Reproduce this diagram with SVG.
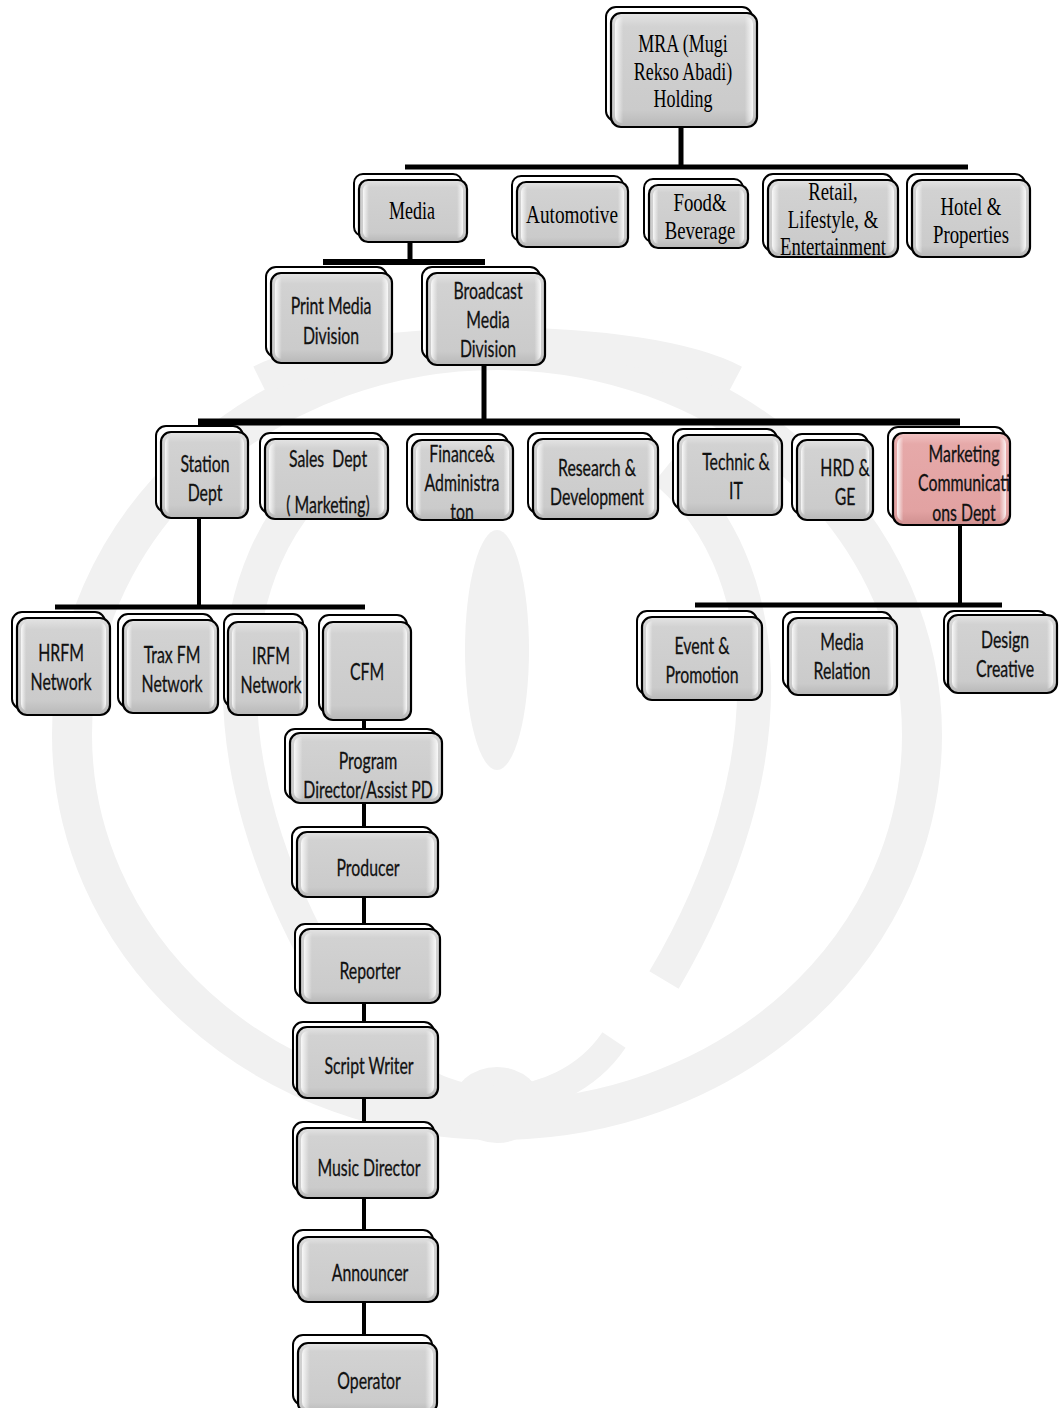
<svg xmlns="http://www.w3.org/2000/svg" width="1059" height="1408" viewBox="0 0 1059 1408">
<defs>
<linearGradient id="gf" x1="0" y1="0" x2="0" y2="1">
<stop offset="0" stop-color="#e4e4e4"/><stop offset="0.12" stop-color="#d2d2d2"/><stop offset="0.85" stop-color="#cbcbcb"/><stop offset="1" stop-color="#b8b8b8"/>
</linearGradient>
<linearGradient id="gh" x1="0" y1="0" x2="1" y2="0">
<stop offset="0" stop-color="#ffffff" stop-opacity="0.85"/><stop offset="0.06" stop-color="#ffffff" stop-opacity="0"/><stop offset="0.94" stop-color="#ffffff" stop-opacity="0"/><stop offset="1" stop-color="#ffffff" stop-opacity="0.85"/>
</linearGradient>
<linearGradient id="gp" x1="0" y1="0" x2="0" y2="1">
<stop offset="0" stop-color="#f2c4c4"/><stop offset="0.12" stop-color="#e6a9a9"/><stop offset="0.85" stop-color="#e2a2a2"/><stop offset="1" stop-color="#cf8f8f"/>
</linearGradient>
</defs>
<style>
.bk{fill:#ffffff;stroke:#000;stroke-width:2}
.fr{fill:url(#gf);stroke:#000;stroke-width:2.2}
.pk{fill:url(#gp);stroke:#000;stroke-width:2.2}
.hl{fill:url(#gh);stroke:none}
.sf{font-family:"Liberation Serif","Times New Roman",serif;font-size:25px;fill:#000;text-anchor:middle}
.ss{font-family:Lato,"Open Sans",sans-serif;font-size:24px;fill:#111;stroke:#111;stroke-width:0.3;text-anchor:middle}
.cn{stroke:#000;fill:none;stroke-linecap:butt}
.wm{fill:none;stroke:#f1f1f1}
.wf{fill:#f1f1f1;stroke:none}
</style>
<rect width="1059" height="1408" fill="#fff"/>
<g id="watermark">
<ellipse class="wm" cx="497" cy="735" rx="425" ry="385" stroke-width="40"/>
<path class="wm" stroke-width="34" d="M330 470C220 560 200 760 330 980M664 470C774 560 794 760 664 980"/>
<path class="wm" stroke-width="30" d="M260 380C360 330 640 330 735 380"/>
<ellipse class="wf" cx="497" cy="650" rx="32" ry="120"/>
<ellipse class="wf" cx="497" cy="1105" rx="45" ry="38"/>
<path class="wm" stroke-width="28" d="M380 1040C430 1120 560 1120 614 1040"/>
</g>
<g id="connectors">
<path class="cn" stroke-width="5" d="M681 127V167M405 167H968"/>
<path class="cn" stroke-width="5" d="M410 242V262"/>
<path class="cn" stroke-width="6" d="M323 262H485"/>
<path class="cn" stroke-width="5" d="M484 365V422"/>
<path class="cn" stroke-width="7" d="M198 422H960"/>
<path class="cn" stroke-width="4" d="M199 518V607"/>
<path class="cn" stroke-width="5" d="M55 607H365"/>
<path class="cn" stroke-width="4" d="M960 525V605"/>
<path class="cn" stroke-width="5" d="M695 605H1002"/>
<path class="cn" stroke-width="4" d="M364 720V1343"/>
</g>
<g id="n-mra"><rect class="bk" x="606" y="7" width="146" height="114" rx="10"/><rect class="fr" x="611" y="13" width="146" height="114" rx="10"/><rect class="hl" x="615" y="17" width="138" height="106" rx="7"/>
<text class="sf" transform="matrix(0.72 0 0 1 683 52)"><tspan x="0" y="0">MRA (Mugi</tspan><tspan x="0" y="28">Rekso Abadi)</tspan><tspan x="0" y="55">Holding</tspan></text></g>
<g id="n-media"><rect class="bk" x="354" y="174" width="108" height="62" rx="9"/><rect class="fr" x="359" y="180" width="108" height="62" rx="9"/><rect class="hl" x="363" y="184" width="100" height="54" rx="6"/>
<text class="sf" transform="matrix(0.72 0 0 1 412 219)">Media</text></g>
<g id="n-automotive"><rect class="bk" x="512" y="176" width="111" height="65" rx="9"/><rect class="fr" x="517" y="182" width="111" height="65" rx="9"/><rect class="hl" x="521" y="186" width="103" height="57" rx="6"/>
<text class="sf" transform="matrix(0.77 0 0 1 572 223)">Automotive</text></g>
<g id="n-food"><rect class="bk" x="644" y="179" width="99" height="63" rx="9"/><rect class="fr" x="649" y="185" width="99" height="63" rx="9"/><rect class="hl" x="653" y="189" width="91" height="55" rx="6"/>
<text class="sf" transform="matrix(0.75 0 0 1 700 211)"><tspan x="0" y="0">Food&amp;</tspan><tspan x="0" y="28">Beverage</tspan></text></g>
<g id="n-retail"><rect class="bk" x="763" y="174" width="130" height="77" rx="10"/><rect class="fr" x="768" y="180" width="130" height="77" rx="10"/><rect class="hl" x="772" y="184" width="122" height="69" rx="7"/>
<text class="sf" transform="matrix(0.75 0 0 1 833 200)"><tspan x="0" y="0">Retail,</tspan><tspan x="0" y="28">Lifestyle, &amp;</tspan><tspan x="0" y="55">Entertainment</tspan></text></g>
<g id="n-hotel"><rect class="bk" x="907" y="174" width="118" height="77" rx="10"/><rect class="fr" x="912" y="180" width="118" height="77" rx="10"/><rect class="hl" x="916" y="184" width="110" height="69" rx="7"/>
<text class="sf" transform="matrix(0.75 0 0 1 971 215)"><tspan x="0" y="0">Hotel &amp;</tspan><tspan x="0" y="28">Properties</tspan></text></g>
<g id="n-print"><rect class="bk" x="266" y="267" width="121" height="90" rx="10"/><rect class="fr" x="271" y="273" width="121" height="90" rx="10"/><rect class="hl" x="275" y="277" width="113" height="82" rx="7"/>
<text class="ss" transform="matrix(0.66 0 0 1 331 314)"><tspan x="0" y="0">Print Media</tspan><tspan x="0" y="30">Division</tspan></text></g>
<g id="n-broadcast"><rect class="bk" x="422" y="267" width="118" height="92" rx="10"/><rect class="fr" x="427" y="273" width="118" height="92" rx="10"/><rect class="hl" x="431" y="277" width="110" height="84" rx="7"/>
<text class="ss" transform="matrix(0.66 0 0 1 488 299)"><tspan x="0" y="0">Broadcast</tspan><tspan x="0" y="29">Media</tspan><tspan x="0" y="58">Division</tspan></text></g>
<g id="n-station"><rect class="bk" x="156" y="426" width="87" height="86" rx="10"/><rect class="fr" x="161" y="432" width="87" height="86" rx="10"/><rect class="hl" x="165" y="436" width="79" height="78" rx="7"/>
<text class="ss" transform="matrix(0.66 0 0 1 205 472)"><tspan x="0" y="0">Station</tspan><tspan x="0" y="29">Dept</tspan></text></g>
<g id="n-sales"><rect class="bk" x="260" y="433" width="123" height="80" rx="10"/><rect class="fr" x="265" y="439" width="123" height="80" rx="10"/><rect class="hl" x="269" y="443" width="115" height="72" rx="7"/>
<text class="ss" transform="matrix(0.66 0 0 1 328 467)" xml:space="preserve"><tspan x="0" y="0">Sales  Dept</tspan><tspan x="0" y="46">( Marketing)</tspan></text></g>
<g id="n-finance"><rect class="bk" x="407" y="434" width="101" height="80" rx="10"/><rect class="fr" x="412" y="440" width="101" height="80" rx="10"/><rect class="hl" x="416" y="444" width="93" height="72" rx="7"/>
<text class="ss" transform="matrix(0.66 0 0 1 462 462)"><tspan x="0" y="0">Finance&amp;</tspan><tspan x="0" y="29">Administra</tspan><tspan x="0" y="58">ton</tspan></text></g>
<g id="n-research"><rect class="bk" x="528" y="433" width="125" height="80" rx="10"/><rect class="fr" x="533" y="439" width="125" height="80" rx="10"/><rect class="hl" x="537" y="443" width="117" height="72" rx="7"/>
<text class="ss" transform="matrix(0.66 0 0 1 597 476)"><tspan x="0" y="0">Research &amp;</tspan><tspan x="0" y="29">Development</tspan></text></g>
<g id="n-technic"><rect class="bk" x="673" y="429" width="104" height="80" rx="10"/><rect class="fr" x="678" y="435" width="104" height="80" rx="10"/><rect class="hl" x="682" y="439" width="96" height="72" rx="7"/>
<text class="ss" transform="matrix(0.66 0 0 1 736 470)"><tspan x="0" y="0">Technic &amp;</tspan><tspan x="0" y="29">IT</tspan></text></g>
<g id="n-hrd"><rect class="bk" x="792" y="434" width="76" height="80" rx="10"/><rect class="fr" x="797" y="440" width="76" height="80" rx="10"/><rect class="hl" x="801" y="444" width="68" height="72" rx="7"/>
<text class="ss" transform="matrix(0.66 0 0 1 845 476)"><tspan x="0" y="0">HRD &amp;</tspan><tspan x="0" y="29">GE</tspan></text></g>
<g id="n-marketing"><rect class="bk" x="888" y="427" width="117" height="92" rx="10"/><rect class="pk" x="893" y="433" width="117" height="92" rx="10"/><rect class="hl" x="897" y="437" width="109" height="84" rx="7"/>
<text class="ss" transform="matrix(0.66 0 0 1 964 462)"><tspan x="0" y="0">Marketing</tspan><tspan x="0" y="29">Communicati</tspan><tspan x="0" y="59">ons Dept</tspan></text></g>
<g id="n-hrfm"><rect class="bk" x="12" y="612" width="93" height="97" rx="10"/><rect class="fr" x="17" y="618" width="93" height="97" rx="10"/><rect class="hl" x="21" y="622" width="85" height="89" rx="7"/>
<text class="ss" transform="matrix(0.66 0 0 1 61 661)"><tspan x="0" y="0">HRFM</tspan><tspan x="0" y="29">Network</tspan></text></g>
<g id="n-trax"><rect class="bk" x="118" y="614" width="95" height="93" rx="10"/><rect class="fr" x="123" y="620" width="95" height="93" rx="10"/><rect class="hl" x="127" y="624" width="87" height="85" rx="7"/>
<text class="ss" transform="matrix(0.66 0 0 1 172 663)"><tspan x="0" y="0">Trax FM</tspan><tspan x="0" y="29">Network</tspan></text></g>
<g id="n-irfm"><rect class="bk" x="224" y="614" width="79" height="93" rx="10"/><rect class="fr" x="228" y="622" width="79" height="93" rx="10"/><rect class="hl" x="232" y="626" width="71" height="85" rx="7"/>
<text class="ss" transform="matrix(0.66 0 0 1 271 664)"><tspan x="0" y="0">IRFM</tspan><tspan x="0" y="29">Network</tspan></text></g>
<g id="n-cfm"><rect class="bk" x="319" y="615" width="88" height="98" rx="10"/><rect class="fr" x="323" y="622" width="88" height="98" rx="10"/><rect class="hl" x="327" y="626" width="80" height="90" rx="7"/>
<text class="ss" transform="matrix(0.66 0 0 1 367 680)">CFM</text></g>
<g id="n-event"><rect class="bk" x="637" y="611" width="120" height="83" rx="10"/><rect class="fr" x="642" y="617" width="120" height="83" rx="10"/><rect class="hl" x="646" y="621" width="112" height="75" rx="7"/>
<text class="ss" transform="matrix(0.66 0 0 1 702 654)"><tspan x="0" y="0">Event &amp;</tspan><tspan x="0" y="29">Promotion</tspan></text></g>
<g id="n-mediarel"><rect class="bk" x="783" y="612" width="109" height="77" rx="10"/><rect class="fr" x="788" y="618" width="109" height="77" rx="10"/><rect class="hl" x="792" y="622" width="101" height="69" rx="7"/>
<text class="ss" transform="matrix(0.66 0 0 1 842 650)"><tspan x="0" y="0">Media</tspan><tspan x="0" y="29">Relation</tspan></text></g>
<g id="n-design"><rect class="bk" x="944" y="611" width="104" height="78" rx="10"/><rect class="fr" x="948" y="615" width="109" height="78" rx="10"/><rect class="hl" x="952" y="619" width="101" height="70" rx="7"/>
<text class="ss" transform="matrix(0.66 0 0 1 1005 648)"><tspan x="0" y="0">Design</tspan><tspan x="0" y="29">Creative</tspan></text></g>
<g id="n-program"><rect class="bk" x="285" y="729" width="152" height="70" rx="10"/><rect class="fr" x="290" y="733" width="152" height="70" rx="10"/><rect class="hl" x="294" y="737" width="144" height="62" rx="7"/>
<text class="ss" transform="matrix(0.66 0 0 1 368 769)"><tspan x="0" y="0">Program</tspan><tspan x="0" y="29">Director/Assist PD</tspan></text></g>
<g id="n-producer"><rect class="bk" x="292" y="827" width="141" height="65" rx="10"/><rect class="fr" x="297" y="832" width="141" height="65" rx="10"/><rect class="hl" x="301" y="836" width="133" height="57" rx="7"/>
<text class="ss" transform="matrix(0.66 0 0 1 368 876)">Producer</text></g>
<g id="n-reporter"><rect class="bk" x="295" y="924" width="140" height="74" rx="10"/><rect class="fr" x="300" y="929" width="140" height="74" rx="10"/><rect class="hl" x="304" y="933" width="132" height="66" rx="7"/>
<text class="ss" transform="matrix(0.66 0 0 1 370 979)">Reporter</text></g>
<g id="n-script"><rect class="bk" x="293" y="1022" width="141" height="71" rx="10"/><rect class="fr" x="297" y="1027" width="141" height="71" rx="10"/><rect class="hl" x="301" y="1031" width="133" height="63" rx="7"/>
<text class="ss" transform="matrix(0.66 0 0 1 369 1074)">Script Writer</text></g>
<g id="n-music"><rect class="bk" x="293" y="1122" width="141" height="70" rx="10"/><rect class="fr" x="297" y="1128" width="141" height="70" rx="10"/><rect class="hl" x="301" y="1132" width="133" height="62" rx="7"/>
<text class="ss" transform="matrix(0.66 0 0 1 369 1176)">Music Director</text></g>
<g id="n-announcer"><rect class="bk" x="293" y="1230" width="140" height="65" rx="10"/><rect class="fr" x="298" y="1237" width="140" height="65" rx="10"/><rect class="hl" x="302" y="1241" width="132" height="57" rx="7"/>
<text class="ss" transform="matrix(0.66 0 0 1 370 1281)">Announcer</text></g>
<g id="n-operator"><rect class="bk" x="293" y="1335" width="139" height="70" rx="10"/><rect class="fr" x="298" y="1343" width="139" height="70" rx="10"/><rect class="hl" x="302" y="1347" width="131" height="62" rx="7"/>
<text class="ss" transform="matrix(0.66 0 0 1 369 1389)">Operator</text></g>
</svg>
